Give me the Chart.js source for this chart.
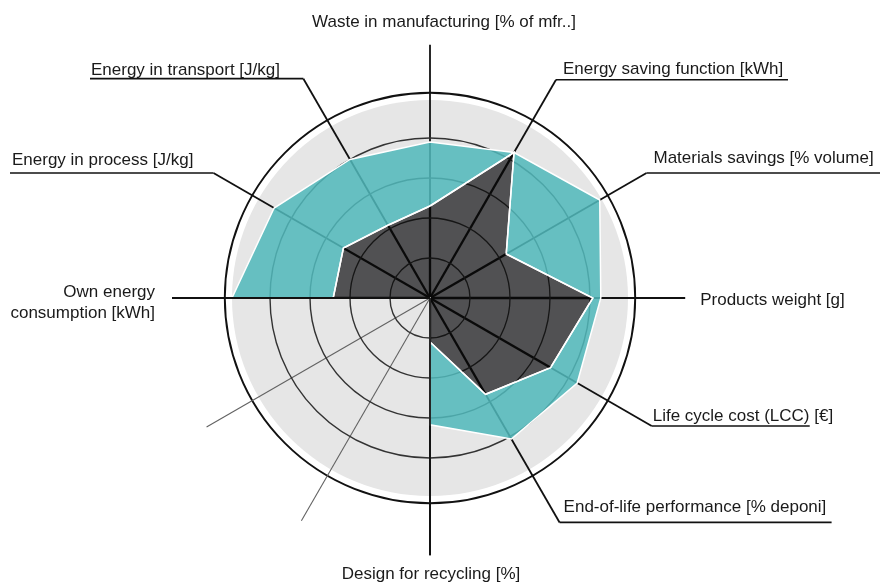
<!DOCTYPE html>
<html>
<head>
<meta charset="utf-8">
<script src="https://cdn.jsdelivr.net/npm/chart.js@4.4.1/dist/chart.umd.min.js"></script>
<style>
html,body{margin:0;padding:0;background:#fff;}
canvas{display:block;}
</style>
</head>
<body>
<canvas id="c" width="880" height="583"></canvas>
<script>
// ---- data ----
const axisLabels = [
  "Waste in manufacturing [% of mfr..]",
  "Energy saving function [kWh]",
  "Materials savings [% volume]",
  "Products weight [g]",
  "Life cycle cost (LCC) [€]",
  "End-of-life performance [% deponi]",
  "Design for recycling [%]",
  "",
  "",
  ["Own energy", "consumption [kWh]"],
  "Energy in process [J/kg]",
  "Energy in transport [J/kg]"
];
const targetValues  = [3.9, 4.2, 4.9, 4.27, 4.25, 4.07, 3.17, 0, 0, 4.95, 4.5, 4.0];
const currentValues = [2.3, 4.2, 2.2, 4.07, 3.48, 2.78, 1.1, 0, 0, 2.42, 2.5, 2.1];
const scaleMax = 5;
const ringStep = 1;

// ---- layout / style (drawing only) ----
const FONT = '17px "Liberation Sans", Arial, Helvetica, sans-serif';
const TEXT_COLOR = '#1a1a1a';
const leaderExt = [6.33, 6.3, 6.25, 6.38, 6.4, 6.48, 6.43, 6.43, 6.45, 6.45, 6.25, 6.33];

function axisEnd(s, i) { return s.getPointPositionForValue(i, leaderExt[i]); }

function drawAxisLine(ctx, s, i, color, width) {
  const p = axisEnd(s, i);
  ctx.beginPath();
  ctx.moveTo(s.xCenter, s.yCenter);
  ctx.lineTo(p.x, p.y);
  ctx.strokeStyle = color;
  ctx.lineWidth = width;
  ctx.stroke();
}

function hline(ctx, x1, x2, y) {
  ctx.beginPath();
  ctx.moveTo(x1, y);
  ctx.lineTo(x2, y);
  ctx.strokeStyle = '#111';
  ctx.lineWidth = 1.7;
  ctx.stroke();
}

function text(ctx, str, x, y, align) {
  ctx.textAlign = align || 'left';
  ctx.textBaseline = 'alphabetic';
  ctx.fillStyle = TEXT_COLOR;
  ctx.font = FONT;
  ctx.fillText(str, x, y);
}

function drawLabels(ctx, s, W) {
  const P = i => axisEnd(s, i);
  let p;
  p = P(0);  text(ctx, axisLabels[0], p.x + 14, p.y - 18, 'center');
  p = P(1);  hline(ctx, p.x, p.x + 232, p.y); text(ctx, axisLabels[1], p.x + 7, p.y - 6);
  p = P(2);  hline(ctx, p.x, W, p.y);         text(ctx, axisLabels[2], p.x + 7, p.y - 10.5);
  p = P(3);  text(ctx, axisLabels[3], p.x + 15, p.y + 7);
  p = P(4);  hline(ctx, p.x, p.x + 158, p.y); text(ctx, axisLabels[4], p.x + 1, p.y - 5);
  p = P(5);  hline(ctx, p.x, p.x + 272, p.y); text(ctx, axisLabels[5], p.x + 4, p.y - 10);
  p = P(6);  text(ctx, axisLabels[6], p.x + 1, p.y + 24, 'center');
  p = P(9);  text(ctx, axisLabels[9][0], p.x - 17, p.y - 1, 'right');
             text(ctx, axisLabels[9][1], p.x - 17, p.y + 20, 'right');
  p = P(10); hline(ctx, 10, p.x, p.y);        text(ctx, axisLabels[10], 12, p.y - 8.5);
  p = P(11); hline(ctx, 90, p.x, p.y);        text(ctx, axisLabels[11], 91, p.y - 4);
}

const radarDecor = {
  id: 'radarDecor',
  beforeDraw(chart) {
    const s = chart.scales.r, ctx = chart.ctx;
    const cx = s.xCenter, cy = s.yCenter;
    ctx.save();
    // grey disc
    ctx.beginPath();
    ctx.arc(cx, cy, s.getDistanceFromCenterForValue(scaleMax * 0.99), 0, Math.PI * 2);
    ctx.fillStyle = '#e6e6e6';
    ctx.fill();
    // outer black circle
    ctx.beginPath();
    ctx.arc(cx, cy, s.getDistanceFromCenterForValue(scaleMax * 1.026), 0, Math.PI * 2);
    ctx.strokeStyle = '#111';
    ctx.lineWidth = 1.9;
    ctx.stroke();
    // axis / leader lines
    for (let i = 0; i < axisLabels.length; i++) {
      const unlabeled = axisLabels[i] === '';
      drawAxisLine(ctx, s, i, unlabeled ? '#626262' : '#111', unlabeled ? 1.1 : 1.8);
    }
    drawLabels(ctx, s, chart.width);
    ctx.restore();
  },
  afterDatasetsDraw(chart) {
    const s = chart.scales.r, ctx = chart.ctx;
    const cx = s.xCenter, cy = s.yCenter;
    const pts = chart.getDatasetMeta(0).data;
    ctx.save();
    // grid lines strongly visible inside the dark polygon
    ctx.beginPath();
    pts.forEach((pt, i) => { if (i === 0) ctx.moveTo(pt.x, pt.y); else ctx.lineTo(pt.x, pt.y); });
    ctx.closePath();
    ctx.save();
    ctx.clip();
    for (let i = 0; i < axisLabels.length; i++) {
      if (axisLabels[i] === '') continue;
      drawAxisLine(ctx, s, i, '#0a0a0a', 2.3);
    }
    for (let v = ringStep; v < scaleMax; v += ringStep) {
      ctx.beginPath();
      ctx.arc(cx, cy, s.getDistanceFromCenterForValue(v), 0, Math.PI * 2);
      ctx.strokeStyle = '#161616';
      ctx.lineWidth = 1.3;
      ctx.stroke();
    }
    ctx.restore();
    // white outline of dark polygon
    ctx.beginPath();
    pts.forEach((pt, i) => { if (i === 0) ctx.moveTo(pt.x, pt.y); else ctx.lineTo(pt.x, pt.y); });
    ctx.closePath();
    ctx.strokeStyle = '#ffffff';
    ctx.lineWidth = 1.5;
    ctx.lineJoin = 'miter';
    ctx.stroke();
    // axes lying on the polygon edges
    drawAxisLine(ctx, s, 6, '#111', 1.8);
    drawAxisLine(ctx, s, 9, '#111', 1.8);
    ctx.restore();
  }
};

new Chart(document.getElementById('c'), {
  type: 'radar',
  data: {
    labels: axisLabels,
    datasets: [
      { label: 'Current', data: currentValues, backgroundColor: '#515153', borderColor: '#ffffff',
        borderWidth: 1.5, pointRadius: 0, order: 1, fill: true },
      { label: 'Target', data: targetValues, backgroundColor: 'rgba(80,184,186,0.86)', borderColor: '#ffffff',
        borderWidth: 1.5, pointRadius: 0, order: 2, fill: true }
    ]
  },
  options: {
    responsive: false,
    animation: false,
    devicePixelRatio: 1,
    layout: { padding: { top: 98, bottom: 85, left: 230, right: 250 } },
    plugins: { legend: { display: false }, tooltip: { enabled: false } },
    elements: { line: { tension: 0, borderJoinStyle: 'miter' } },
    scales: {
      r: {
        min: 0, max: scaleMax,
        ticks: { display: false, stepSize: ringStep },
        pointLabels: { display: false },
        angleLines: { display: false },
        grid: {
          circular: true,
          color: c => (c.tick && c.tick.value > 0 && c.tick.value < scaleMax) ? '#333333' : 'rgba(0,0,0,0)',
          lineWidth: 1.4
        }
      }
    }
  },
  plugins: [radarDecor]
});
</script>
</body>
</html>
